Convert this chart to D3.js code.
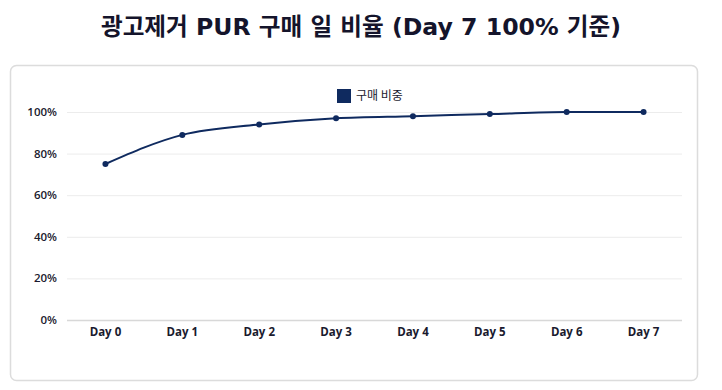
<!DOCTYPE html>
<html>
<head>
<meta charset="utf-8">
<script src="https://cdn.jsdelivr.net/npm/d3@7"></script>
<style>
  body { margin: 0; background: #fff; font-family: "Open Sans", "Noto Sans CJK KR", sans-serif; }
</style>
</head>
<body>
<div id="chart"></div>
<script>
const days = ["Day 0", "Day 1", "Day 2", "Day 3", "Day 4", "Day 5", "Day 6", "Day 7"];
const purchaseShare = [75, 89, 94, 97, 98, 99, 100, 100];
const yTicks = [0, 20, 40, 60, 80, 100];
const seriesName = "구매 비중";
const titleText = "광고제거 PUR 구매 일 비율 (Day 7 100% 기준)";

const width = 722, height = 390;
const lineColor = "#0f2a5f";
const plot = { left: 67, right: 682, top: 112, bottom: 320 };

const svg = d3.select("#chart").append("svg")
    .attr("width", width)
    .attr("height", height);

// title
svg.append("text")
    .attr("x", width / 2)
    .attr("y", 35)
    .attr("text-anchor", "middle")
    .attr("font-family", "'DejaVu Sans', 'Noto Sans CJK KR', sans-serif")
    .attr("font-size", "23.6px")
    .attr("font-weight", "bold")
    .attr("fill", "#14142b")
    .text(titleText);

// card
svg.append("rect")
    .attr("x", 10.5)
    .attr("y", 65.5)
    .attr("width", 687)
    .attr("height", 315)
    .attr("rx", 6)
    .attr("fill", "#fff")
    .attr("stroke", "#dcdcdc")
    .attr("stroke-width", 1.5);

const x = d3.scaleBand()
    .domain(days)
    .range([plot.left, plot.right])
    .padding(0);

const y = d3.scaleLinear()
    .domain([0, 100])
    .range([plot.bottom, plot.top]);

// grid lines
svg.append("g")
    .selectAll("line")
    .data(yTicks)
    .enter()
    .append("line")
    .attr("x1", plot.left)
    .attr("x2", plot.right)
    .attr("y1", d => y(d) + 0.5)
    .attr("y2", d => y(d) + 0.5)
    .attr("stroke", d => d === 0 ? "#d8d8d8" : "#ececec")
    .attr("stroke-width", d => d === 0 ? 1.5 : 1);

// y labels
svg.append("g")
    .selectAll("text")
    .data(yTicks)
    .enter()
    .append("text")
    .attr("x", 57)
    .attr("y", d => y(d))
    .attr("dy", "0.35em")
    .attr("text-anchor", "end")
    .attr("font-size", "11.5px")
    .attr("font-weight", 600)
    .attr("fill", "#1a1a2e")
    .text(d => d + "%");

// x labels
svg.append("g")
    .selectAll("text")
    .data(days)
    .enter()
    .append("text")
    .attr("x", d => x(d) + x.bandwidth() / 2)
    .attr("y", 332)
    .attr("dy", "0.35em")
    .attr("text-anchor", "middle")
    .attr("font-size", "11.5px")
    .attr("font-weight", "bold")
    .attr("fill", "#1a1a2e")
    .text(d => d);

// line
const points = days.map((d, i) => [x(d) + x.bandwidth() / 2, y(purchaseShare[i])]);

svg.append("path")
    .datum(points)
    .attr("fill", "none")
    .attr("stroke", lineColor)
    .attr("stroke-width", 2)
    .attr("d", d3.line().curve(d3.curveMonotoneX));

svg.append("g")
    .selectAll("circle")
    .data(points)
    .enter()
    .append("circle")
    .attr("cx", d => d[0])
    .attr("cy", d => d[1])
    .attr("r", 3)
    .attr("fill", lineColor);

// legend
const legend = svg.append("g").attr("transform", "translate(337,89)");
legend.append("rect")
    .attr("width", 14)
    .attr("height", 14)
    .attr("fill", lineColor);
legend.append("text")
    .attr("x", 19)
    .attr("y", 7)
    .attr("dy", "0.35em")
    .attr("font-family", "'Noto Sans CJK KR', sans-serif")
    .attr("font-size", "12px")
    .attr("fill", "#1a1a2e")
    .text(seriesName);
</script>
</body>
</html>
